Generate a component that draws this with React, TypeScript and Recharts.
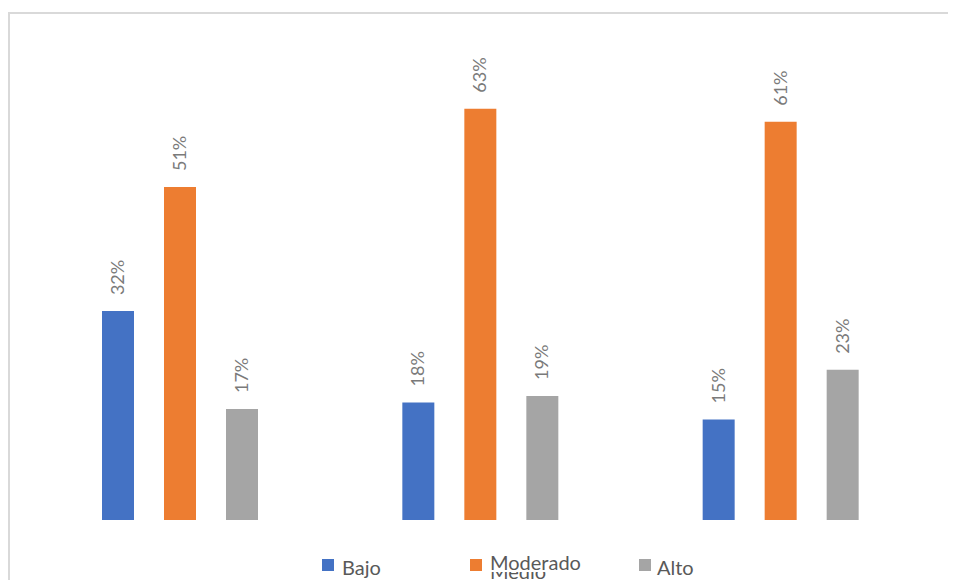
import React from "react";
import { BarChart, Bar, XAxis, YAxis, LabelList } from "recharts";

const categories = ["Grupo 1", "Grupo 2", "Grupo 3"];
const seriesNames = ["Bajo", "Moderado", "Alto"];
const seriesKeys = ["bajo", "moderado", "alto"];
const seriesColors = ["#4472C4", "#ED7D31", "#A5A5A5"];
const bajoValues = [0.32, 0.18, 0.154];
const moderadoValues = [0.51, 0.63, 0.61];
const altoValues = [0.17, 0.19, 0.23];

const data = categories.map((c, i) => ({
  name: c,
  bajo: bajoValues[i],
  moderado: moderadoValues[i],
  alto: altoValues[i],
}));

const FONT = "Lato, 'Noto Sans', sans-serif";

const RotLabel = (props: any) => {
  const { x, y, width, value } = props;
  const cx = Number(x) + Number(width) / 2 + 6;
  const ty = Number(y) - 16;
  return (
    <text
      x={cx}
      y={ty}
      transform={`rotate(-90 ${cx} ${ty})`}
      textAnchor="start"
      fill="#7a7a7a"
      fontSize={18}
      fontFamily={FONT}
    >
      {`${Math.round(Number(value) * 100)}%`}
    </text>
  );
};

const legendPos = [
  { sq: 314, tx: 334, ty: 9 },
  { sq: 462, tx: 482, ty: 4 },
  { sq: 631, tx: 649, ty: 9 },
];

export default function App() {
  return (
    <div
      style={{
        position: "relative",
        width: 948,
        height: 572,
        overflow: "hidden",
        background: "#fff",
        fontFamily: FONT,
      }}
    >
      <div
        style={{
          position: "absolute",
          left: 0,
          top: 4,
          width: 1000,
          height: 700,
          border: "2px solid #d9d9d9",
          boxSizing: "border-box",
        }}
      />
      <div style={{ position: "absolute", left: 0, top: 0 }}>
        <BarChart
          width={948}
          height={572}
          data={data}
          margin={{ top: 55, right: 25, bottom: 60, left: 22 }}
          barSize={32}
          barGap={30}
        >
          <XAxis dataKey="name" hide />
          <YAxis hide domain={[0, 0.7]} />
          {seriesKeys.map((k, i) => (
            <Bar
              key={k}
              dataKey={k}
              name={seriesNames[i]}
              fill={seriesColors[i]}
              isAnimationActive={false}
            >
              <LabelList dataKey={k} content={RotLabel} />
            </Bar>
          ))}
        </BarChart>
      </div>
      <div
        style={{
          position: "absolute",
          left: 0,
          top: 540,
          width: 948,
          height: 32,
          overflow: "hidden",
        }}
      >
        <span
          style={{
            position: "absolute",
            left: legendPos[1].tx,
            top: 13,
            fontSize: 20,
            lineHeight: "20px",
            color: "#595959",
            whiteSpace: "nowrap",
          }}
        >
          Medio
        </span>
        {seriesNames.map((n, i) => (
          <React.Fragment key={n}>
            <div
              style={{
                position: "absolute",
                left: legendPos[i].sq,
                top: 11,
                width: 12,
                height: 12,
                background: seriesColors[i],
              }}
            />
            <span
              style={{
                position: "absolute",
                left: legendPos[i].tx,
                top: legendPos[i].ty,
                fontSize: 20,
                lineHeight: "20px",
                color: "#595959",
                whiteSpace: "nowrap",
                background: i === 1 ? "#fff" : "transparent",
              }}
            >
              {n}
            </span>
          </React.Fragment>
        ))}
      </div>
    </div>
  );
}
